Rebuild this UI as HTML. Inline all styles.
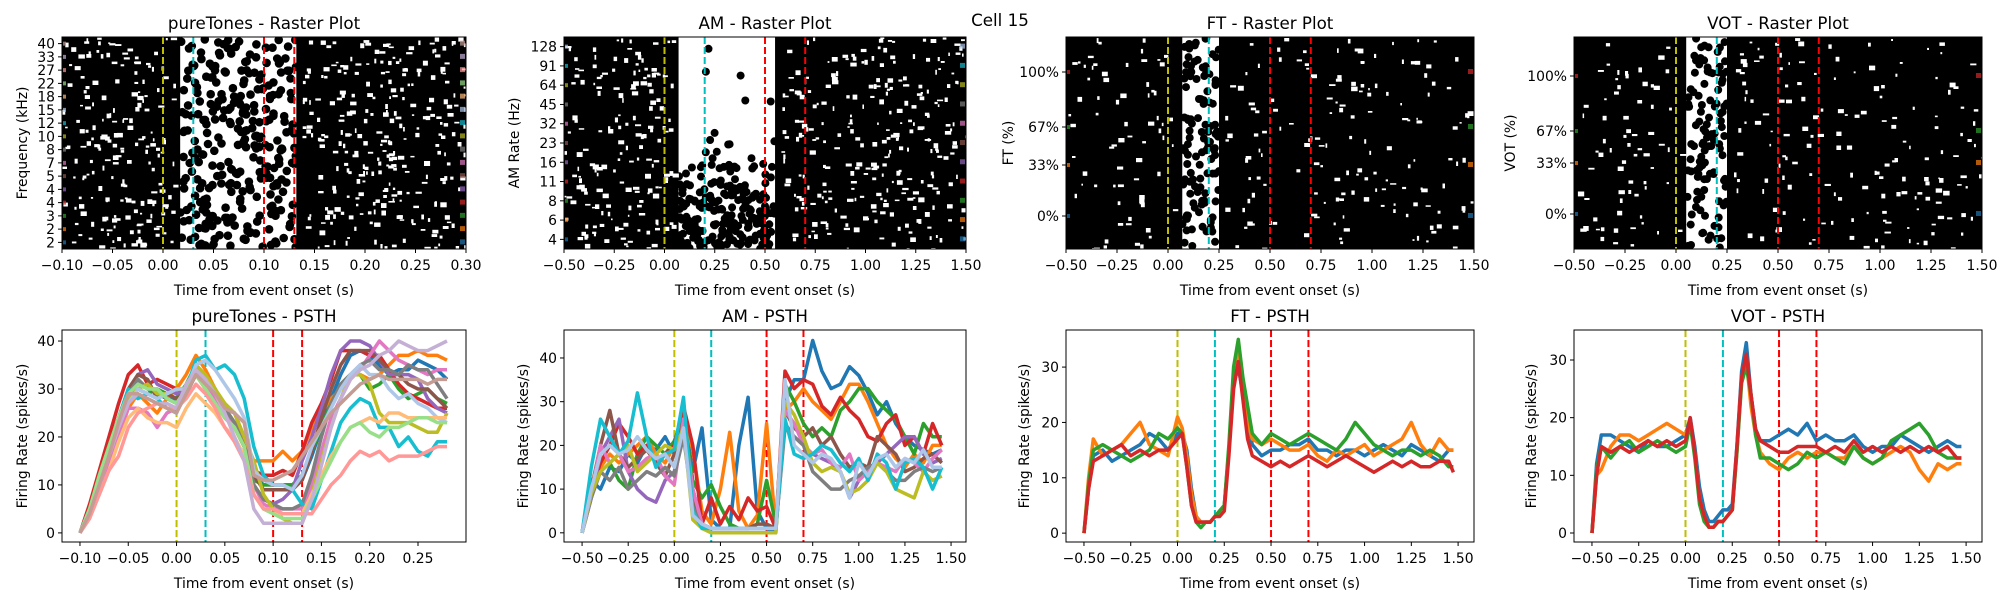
<!DOCTYPE html>
<html><head><meta charset="utf-8">
<style>
html,body{margin:0;padding:0;background:#fff;}
svg{display:block;font-family:"DejaVu Sans","Liberation Sans",sans-serif;}
</style></head>
<body>
<svg id="fig" width="2000" height="600" viewBox="0 0 2000 600" xmlns="http://www.w3.org/2000/svg">
<text x="1000" y="26" font-size="16.7" text-anchor="middle">Cell 15</text>
</svg>
<script>
// ---------- data ----------
const ptTimes = [-0.10,-0.09,-0.08,-0.07,-0.06,-0.05,-0.04,-0.03,-0.02,-0.01,0.00,0.01,0.02,0.03,0.04,0.05,0.06,0.07,0.08,0.09,0.10,0.11,0.12,0.13,0.14,0.15,0.16,0.17,0.18,0.19,0.20,0.21,0.22,0.23,0.24,0.25,0.26,0.27,0.28];
const ptBlue   = [0,5,11,17,23,29,32,30,29,28,28,29,33,32,29,26,23,18,12,10,10,10,10,11,16,22,28,33,37,38,37,35,33,34,34,36,35,34,32];
const ptOrange = [0,4,9,15,20,26,29,27,25,28,30,33,37,34,30,26,23,19,15,15,15,17,15,17,22,25,28,30,33,33,32,33,35,37,37,38,37,37,36];
const ptGreen  = [0,5,11,17,23,28,30,29,30,29,28,31,35,31,27,24,22,18,11,10,10,10,10,12,17,22,27,31,33,33,30,31,33,30,28,29,30,28,27];
const ptRed    = [0,6,13,20,27,33,35,31,32,31,30,30,33,30,28,25,22,18,13,12,12,13,12,17,23,27,32,38,38,38,37,37,34,31,29,28,27,26,26];
const ptPurple = [0,5,11,17,23,29,33,34,31,30,29,30,33,31,28,24,22,18,10,7,6,7,9,15,20,26,33,38,40,40,39,36,33,33,33,32,28,26,25];
const ptBrown  = [0,5,12,18,24,30,33,32,28,29,28,29,33,32,30,26,25,20,12,9,9,9,9,11,17,24,30,35,38,38,38,36,34,33,31,30,30,28,26];
const ptPink   = [0,4,9,15,21,26,26,25,22,25,26,30,34,31,28,25,22,18,10,6,5,5,5,5,10,17,24,28,32,34,37,40,38,36,35,34,33,34,34];
const ptGray   = [0,5,12,18,24,29,32,30,30,28,27,29,33,32,30,26,23,18,10,7,6,5,5,6,12,20,27,31,33,35,36,34,34,33,35,34,34,31,28];
const ptOlive  = [0,5,11,17,23,28,30,31,29,29,30,30,35,33,30,27,25,20,15,8,5,3,2,2,8,15,22,28,33,33,31,25,23,23,23,22,21,21,25];
const ptCyan   = [0,5,11,17,24,30,28,29,28,26,25,30,36,37,34,35,33,28,18,12,10,10,9,6,5,11,17,23,26,28,27,22,22,18,20,17,16,19,19];
const ptLBlue  = [0,4,10,16,22,27,30,29,28,29,30,30,35,36,34,31,28,24,13,11,10,10,9,12,18,22,26,30,33,35,33,33,30,28,29,27,26,24,23];
const ptLOrange= [0,4,8,13,19,24,26,24,23,23,22,26,29,27,25,22,20,16,8,5,4,4,4,4,8,12,16,19,22,23,24,23,25,25,24,24,24,24,24];
const ptLGreen = [0,5,12,18,24,29,31,30,30,28,27,30,33,30,27,24,22,18,8,5,4,3,3,3,7,11,15,19,22,23,21,20,22,22,23,24,24,23,23];
const ptLRed   = [0,3,8,13,16,22,25,26,27,26,26,28,31,29,26,22,19,15,8,5,5,4,4,4,4,7,10,12,15,17,16,17,15,16,16,16,17,18,18];
const ptLPurple= [0,4,10,16,22,27,29,28,27,27,26,31,34,32,29,25,20,15,5,2,2,2,2,2,7,14,22,28,32,34,35,37,38,40,39,38,38,39,40];
const ptLBrown = [0,4,10,16,23,29,29,28,27,26,25,29,33,31,29,26,25,23,12,11,11,12,13,16,19,22,25,27,29,31,32,33,32,32,32,32,31,32,32];

const amTimes = [-0.50,-0.45,-0.40,-0.35,-0.30,-0.25,-0.20,-0.15,-0.10,-0.05,0.00,0.05,0.10,0.15,0.20,0.25,0.30,0.35,0.40,0.45,0.50,0.55,0.60,0.65,0.70,0.75,0.80,0.85,0.90,0.95,1.00,1.05,1.10,1.15,1.20,1.25,1.30,1.35,1.40,1.45];
const amBlue   = [0,12,10,15,14,18,16,20,19,22,18,27,14,24,3,1,1,20,31,5,1,0,30,35,35,44,37,33,34,38,36,32,27,30,25,22,20,19,18,19];
const amOrange = [0,10,15,18,16,18,20,22,18,16,20,27,19,5,2,10,23,5,1,4,25,1,28,30,33,30,28,26,30,34,34,30,25,20,17,15,18,16,20,20];
const amGreen  = [0,12,14,16,12,10,18,22,20,18,21,27,12,8,11,6,2,1,1,2,12,2,34,30,25,22,24,22,28,30,33,33,30,28,26,22,18,25,22,22];
const amRed    = [0,10,16,20,25,22,18,20,16,18,20,29,20,2,8,2,6,3,8,5,6,1,37,33,35,34,29,27,31,28,26,22,21,25,27,20,22,18,25,20];
const amPurple = [0,8,18,22,26,14,10,8,7,12,14,25,10,2,1,1,1,1,1,1,1,1,25,22,20,18,17,16,14,8,12,14,16,18,20,22,22,18,16,17];
const amBrown  = [0,10,20,28,18,15,17,19,16,13,18,25,8,2,1,1,1,1,1,2,2,1,28,24,22,24,20,22,18,15,16,15,22,20,18,14,15,17,18,16];
const amPink   = [0,9,20,16,18,14,15,17,18,13,11,26,10,2,1,1,1,1,1,1,1,1,28,25,20,18,19,16,15,18,12,14,16,15,14,17,16,14,17,19];
const amGray   = [0,8,14,12,15,10,12,14,13,15,13,22,6,1,1,1,1,1,1,1,1,1,24,22,20,14,12,10,10,12,13,15,16,14,12,12,14,15,14,15];
const amOlive  = [0,9,14,16,18,20,14,16,18,20,19,24,3,1,0,0,0,0,0,0,0,0,30,27,22,16,14,15,14,9,10,12,16,14,10,9,8,14,12,13];
const amCyan   = [0,15,26,22,18,21,32,22,15,18,19,31,5,1,1,1,1,1,1,1,1,1,26,18,17,18,20,19,16,14,17,12,18,16,10,16,17,15,10,15];
const amLBlue  = [0,10,18,20,18,19,22,19,17,18,15,24,4,2,1,1,1,1,1,1,1,1,35,20,18,16,18,17,14,8,16,13,17,18,15,17,16,19,15,15];

const spTimes = [-0.5,-0.475,-0.45,-0.4,-0.35,-0.3,-0.25,-0.2,-0.15,-0.1,-0.05,0,0.025,0.05,0.075,0.1,0.125,0.15,0.175,0.2,0.225,0.25,0.275,0.3,0.325,0.35,0.375,0.4,0.45,0.5,0.55,0.6,0.65,0.7,0.75,0.8,0.85,0.9,0.95,1.0,1.05,1.1,1.15,1.2,1.25,1.3,1.35,1.4,1.45,1.475];
const ftBlue   = [0,8,14,15,13,14,15,16,18,17,15,18,18,15,8,3,2,2,2,3,4,5,15,27,30,25,20,16,14,15,15,16,16,17,15,15,14,15,15,14,15,16,15,14,16,15,14,13,15,15];
const ftOrange = [0,10,17,14,15,16,18,20,16,15,14,21,19,14,7,3,2,2,2,3,4,5,15,28,33,26,20,17,16,17,16,15,15,16,14,13,15,14,15,16,14,15,16,17,20,16,14,17,15,15];
const ftGreen  = [0,9,15,16,15,14,13,14,15,18,17,19,18,12,5,2,1,2,2,3,4,5,16,30,35,28,23,18,16,18,17,16,17,18,17,16,15,17,20,18,16,15,14,15,15,14,15,14,12,12];
const ftRed    = [0,8,13,14,15,16,14,15,14,15,15,17,18,12,5,2,2,2,2,3,3,4,14,26,31,24,17,14,13,12,13,12,13,14,13,12,13,14,13,12,11,12,13,12,13,12,12,13,13,11];
const votBlue  = [0,12,17,17,16,15,14,16,15,15,16,17,20,15,8,4,2,2,3,4,4,5,15,28,33,24,18,16,16,17,18,17,19,16,17,16,16,17,15,14,15,15,17,16,15,14,15,16,15,15];
const votOrange= [0,10,11,15,17,17,16,17,18,19,18,17,19,14,6,3,1,1,2,2,3,4,14,27,30,22,17,14,12,11,13,14,13,14,14,13,13,15,13,12,13,14,15,14,11,9,12,11,12,12];
const votGreen = [0,11,15,13,15,16,14,15,16,15,14,15,19,13,5,2,1,1,2,2,3,4,14,26,29,24,17,13,13,12,11,12,14,13,14,13,12,15,13,12,13,16,17,18,19,17,14,13,13,13];
const votRed   = [0,10,15,14,15,14,15,16,15,16,15,16,20,14,6,3,1,1,2,2,3,4,15,27,31,24,18,16,15,14,14,15,15,15,14,15,14,16,14,15,14,15,14,15,14,15,14,15,13,13];

const ptFreqLabels = ['2','2','3','4','4','5','7','8','10','12','15','18','22','27','33','40'];
const amRateLabels = ['4','6','8','11','16','23','32','45','64','91','128'];
const ftLabels = ['0%','33%','67%','100%'];
const ftTrialCounts = [66,36,40,70];
const votLabels = ['0%','33%','67%','100%'];
const votTrialCounts = [70,32,32,78];
const ptEvents = [0,0.03,0.10,0.13];
const speechEvents = [0,0.2,0.5,0.7];
const ptXTicks = [-0.10,-0.05,0.00,0.05,0.10,0.15,0.20,0.25,0.30];
const ptPsthXTicks = [-0.10,-0.05,0.00,0.05,0.10,0.15,0.20,0.25];
const longXTicks = [-0.50,-0.25,0.00,0.25,0.50,0.75,1.00,1.25,1.50];

const tab = ['#1f77b4','#ff7f0e','#2ca02c','#d62728','#9467bd','#8c564b','#e377c2','#7f7f7f','#bcbd22','#17becf','#aec7e8','#ffbb78','#98df8a','#ff9896','#c5b0d5','#c49c94'];
const eventColors = ['#bfbf00','#00bfbf','#ff0000','#ff0000'];

// ---------- helpers ----------
const NS='http://www.w3.org/2000/svg';
const fig=document.getElementById('fig');
function mk(tag,attrs,parent){const e=document.createElementNS(NS,tag);for(const k in attrs)e.setAttribute(k,attrs[k]);(parent||fig).appendChild(e);return e;}
function txt(x,y,s,size,anchor,parent,rot){const e=mk('text',{x:x,y:y,'font-size':size,'text-anchor':anchor||'middle'},parent);if(rot)e.setAttribute('transform','rotate(-90 '+x+' '+y+')');e.textContent=s;return e;}
// deterministic texture hash (decoration only)
function hsh(k,s){const v=Math.sin(k*12.9898+s*78.233)*43758.5453;return v-Math.floor(v);}

function makeAxes(name,box,xlim,ylim){
  const g=mk('g',{});
  
  
  const sx=v=>box.l+(v-xlim[0])/(xlim[1]-xlim[0])*(box.r-box.l);
  const sy=v=>box.b-(v-ylim[0])/(ylim[1]-ylim[0])*(box.b-box.t);
  return {g,sx,sy,box};
}
function frame(ax){
  const b=ax.box;
  const r=mk('rect',{x:b.l,y:b.t,width:b.r-b.l,height:b.b-b.t,fill:'none',stroke:'#000','stroke-width':1},ax.g);
  
  
}
function xticks(ax,ticks,fmtDigits){
  ticks.forEach(t=>{const x=ax.sx(t);
    mk('line',{x1:x,x2:x,y1:ax.box.b,y2:ax.box.b+4,stroke:'#000','stroke-width':1},ax.g);
    const s=t.toFixed(fmtDigits).replace('-','\u2212');
    const e=txt(x,ax.box.b+21,s,13.9,'middle',ax.g);
    
    
  });
}
function yticksPx(ax,list){
  list.forEach(([py,s])=>{
    mk('line',{x1:ax.box.l-4,x2:ax.box.l,y1:py,y2:py,stroke:'#000','stroke-width':1},ax.g);
    const e=txt(ax.box.l-7,py+5,s,13.9,'end',ax.g);
    
    
  });
}
function labels(ax,title,ylab,ylx){
  const b=ax.box,cx=(b.l+b.r)/2;
  const t=txt(cx,b.t-8,title,16.7,'middle',ax.g);
  
  
  const xl=txt(cx,b.b+46,'Time from event onset (s)',13.9,'middle',ax.g);
  
  
  const yl=txt(ylx,(b.t+b.b)/2,ylab,13.9,'middle',ax.g,true);
  yl.setAttribute('dy','5');
  
  
}
function events(ax,evs){
  evs.forEach((v,i)=>{const x=ax.sx(v);
    const l=mk('line',{x1:x,x2:x,y1:ax.box.t,y2:ax.box.b,stroke:eventColors[i],'stroke-width':2,'stroke-dasharray':'7,3'},ax.g);
    
    
  });
}
function series(ax,times,vals,color){
  const d=vals.map((v,i)=>(i?'L':'M')+ax.sx(times[i]).toFixed(1)+','+ax.sy(v).toFixed(1)).join('');
  const p=mk('path',{d:d,fill:'none',stroke:color,'stroke-width':3.5,'stroke-linejoin':'round'},ax.g);
  
  
}

// raster: black field with white response window and speckles
function raster(ax,cfg,blockCounts){
  const b=ax.box,clipId='clip'+Math.round(b.l);
  const cp=mk('clipPath',{id:clipId},ax.g);mk('rect',{x:b.l,y:b.t,width:b.r-b.l,height:b.b-b.t},cp);
  const g=mk('g',{'clip-path':'url(#'+clipId+')'},ax.g);
  
  
  mk('rect',{x:b.l,y:b.t,width:b.r-b.l,height:b.b-b.t,fill:'#000'},g);
  const x0=ax.sx(cfg.win[0]),x1=ax.sx(cfg.win[1]),H=b.b-b.t,W=b.r-b.l;
  mk('rect',{x:x0,y:b.t,width:x1-x0,height:H,fill:'#fff'},g);
  const seed=b.l;
  for(let k=0;k<cfg.nDots;k++){
    const fx=hsh(k,seed),fy=hsh(k,seed+3.7);
    if(cfg.gradient){const p=Math.min(1,Math.max(0.04,(fy-0.45)*2.2));if(hsh(k,seed+5.1)>p)continue;}
    mk('circle',{cx:(x0+fx*(x1-x0)).toFixed(1),cy:(b.t+fy*H).toFixed(1),r:cfg.r,fill:'#000'},g);
  }
  for(let k=0;k<cfg.nSpecks;k++){
    const fx=hsh(k,seed+11.3),fy=hsh(k,seed+17.9);
    const x=b.l+fx*W;
    if(x>x0-6&&x<x1+6) continue;
    const w=1.5+hsh(k,seed+23.1)*5, h=1.5+hsh(k,seed+29.5)*3.5;
    mk('rect',{x:x.toFixed(1),y:(b.t+fy*H).toFixed(1),width:w.toFixed(1),height:h.toFixed(1),fill:'#fff'},g);
  }
  let acc=0;const tot=blockCounts.reduce((a,c)=>a+c,0);
  blockCounts.forEach((c,i)=>{
    const yb=b.b-acc/tot*H, yt=b.b-(acc+c)/tot*H; acc+=c;
    const ym=(yb+yt)/2, col=tab[i%tab.length];
    mk('rect',{x:b.l+1,y:ym-2,width:3,height:4,fill:col,opacity:0.7},g);
    mk('rect',{x:b.r-6,y:ym-3,width:5,height:5,fill:col,opacity:0.7},g);
  });
  events(ax,cfg.events);
  frame(ax);
  acc=0;const out=[];
  blockCounts.forEach((c,i)=>{out.push([b.b-(acc+c/2)/tot*H,cfg.labels[i]]);acc+=c;});
  yticksPx(ax,out);
}

// ---------- top row rasters ----------
const T=37,B=249,PT=330,PB=542;
let ax=makeAxes('puretones-raster',{l:62,r:466,t:T,b:B},[-0.10,0.30],[0,1]);
raster(ax,{win:[0.017,0.132],nDots:300,r:4.3,nSpecks:700,events:ptEvents,labels:ptFreqLabels},ptFreqLabels.map(()=>1));
xticks(ax,ptXTicks,2);labels(ax,'pureTones - Raster Plot','Frequency (kHz)',22);

ax=makeAxes('am-raster',{l:564,r:966,t:T,b:B},[-0.5,1.5],[0,1]);
raster(ax,{win:[0.07,0.55],nDots:650,r:4,nSpecks:620,gradient:true,events:speechEvents,labels:amRateLabels},amRateLabels.map(()=>1));
xticks(ax,longXTicks,2);labels(ax,'AM - Raster Plot','AM Rate (Hz)',514);

ax=makeAxes('ft-raster',{l:1066,r:1474,t:T,b:B},[-0.5,1.5],[0,1]);
raster(ax,{win:[0.07,0.25],nDots:110,r:4,nSpecks:260,events:speechEvents,labels:ftLabels},ftTrialCounts);
xticks(ax,longXTicks,2);labels(ax,'FT - Raster Plot','FT (%)',1008);

ax=makeAxes('vot-raster',{l:1574,r:1982,t:T,b:B},[-0.5,1.5],[0,1]);
raster(ax,{win:[0.05,0.25],nDots:110,r:4,nSpecks:260,events:speechEvents,labels:votLabels},votTrialCounts);
xticks(ax,longXTicks,2);labels(ax,'VOT - Raster Plot','VOT (%)',1510);

// ---------- bottom row PSTHs ----------
function psth(name,box,xlim,ylim,xt,yt,evs,times,list,title,ylx){
  const a=makeAxes(name,box,xlim,ylim);
  events(a,evs);
  list.forEach((s,i)=>series(a,times,s,tab[i]));
  frame(a);
  xticks(a,xt,2);
  yticksPx(a,yt.map(v=>[a.sy(v),String(v)]));
  labels(a,title,'Firing Rate (spikes/s)',ylx);
}
const ptSeries=[ptBlue,ptOrange,ptGreen,ptRed,ptPurple,ptBrown,ptPink,ptGray,ptOlive,ptCyan,ptLBlue,ptLOrange,ptLGreen,ptLRed,ptLPurple,ptLBrown];
const amSeries=[amBlue,amOrange,amGreen,amRed,amPurple,amBrown,amPink,amGray,amOlive,amCyan,amLBlue];
psth('puretones-psth',{l:62,r:466,t:PT,b:PB},[-0.1186,0.2997],[-1.9,42.3],ptPsthXTicks,[0,10,20,30,40],ptEvents,ptTimes,ptSeries,'pureTones - PSTH',22);
psth('am-psth',{l:564,r:966,t:PT,b:PB},[-0.598,1.581],[-2.1,46.4],longXTicks,[0,10,20,30,40],speechEvents,amTimes,amSeries,'AM - PSTH',523);
psth('ft-psth',{l:1066,r:1474,t:PT,b:PB},[-0.596,1.585],[-1.6,36.7],longXTicks,[0,10,20,30],speechEvents,spTimes,[ftBlue,ftOrange,ftGreen,ftRed],'FT - PSTH',1024);
psth('vot-psth',{l:1574,r:1982,t:PT,b:PB},[-0.596,1.585],[-1.56,35.2],longXTicks,[0,10,20,30],speechEvents,spTimes,[votBlue,votOrange,votGreen,votRed],'VOT - PSTH',1531);
</script>
</body></html>
